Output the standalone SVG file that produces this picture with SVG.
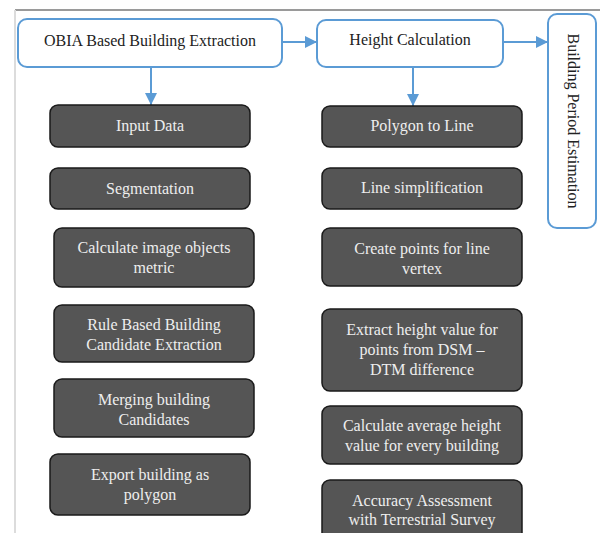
<svg xmlns="http://www.w3.org/2000/svg" width="600" height="533" viewBox="0 0 600 533">
<defs>
<marker id="ah" viewBox="0 0 10 10" refX="10" refY="5" markerWidth="12" markerHeight="12" markerUnits="userSpaceOnUse" orient="auto">
<path d="M0,0 L10,5 L0,10 z" fill="#5b9bd5"/>
</marker>
<style>
.hdr{fill:#fff;stroke:#5b9bd5;stroke-width:2}
.step{fill:#555;stroke:#1a1a1a;stroke-width:1.5}
.ht{font-family:"Liberation Serif",serif;font-size:16px;fill:#222;text-anchor:middle}
.st{font-family:"Liberation Serif",serif;font-size:16px;fill:#eee;text-anchor:middle}
.con{stroke:#5b9bd5;stroke-width:2;fill:none;marker-end:url(#ah)}
</style>
</defs>
<rect width="600" height="533" fill="#fff"/>
<line x1="15" y1="10" x2="600" y2="10" stroke="#9a9a9a" stroke-width="2"/>
<line x1="15" y1="10" x2="15" y2="533" stroke="#dcdcdc" stroke-width="2"/>

<g id="connectors">
<line class="con" x1="151" y1="67" x2="151" y2="105"/>
<line class="con" x1="282" y1="42" x2="317" y2="42"/>
<line class="con" x1="503" y1="42" x2="548" y2="42"/>
<line class="con" x1="413" y1="67" x2="413" y2="106"/>
</g>

<g id="obia"><rect class="hdr" x="18" y="19" width="264" height="48" rx="9"/><text class="ht" x="150" y="46">OBIA Based Building Extraction</text></g>
<g id="height"><rect class="hdr" x="317" y="20" width="186" height="47" rx="9"/><text class="ht" x="410" y="45">Height Calculation</text></g>
<g id="period"><rect class="hdr" x="548" y="14" width="48" height="214" rx="9"/><text class="ht" transform="translate(568,121) rotate(90)" x="0" y="0">Building Period Estimation</text></g>

<g id="input"><rect class="step" x="50" y="105" width="200" height="42" rx="8"/><text class="st" x="150" y="131">Input Data</text></g>
<g id="seg"><rect class="step" x="50" y="168" width="200" height="41" rx="8"/><text class="st" x="150" y="194">Segmentation</text></g>
<g id="calc"><rect class="step" x="54" y="228" width="200" height="59" rx="8"/><text class="st" x="154" y="253">Calculate image objects</text><text class="st" x="154" y="273">metric</text></g>
<g id="rule"><rect class="step" x="54" y="305" width="200" height="57" rx="8"/><text class="st" x="154" y="330">Rule Based Building</text><text class="st" x="154" y="350">Candidate Extraction</text></g>
<g id="merge"><rect class="step" x="54" y="379" width="200" height="58" rx="8"/><text class="st" x="154" y="405">Merging building</text><text class="st" x="154" y="425">Candidates</text></g>
<g id="export"><rect class="step" x="50" y="454" width="200" height="61" rx="8"/><text class="st" x="150" y="480">Export building as</text><text class="st" x="150" y="500">polygon</text></g>

<g id="p2l"><rect class="step" x="322" y="106" width="200" height="41" rx="8"/><text class="st" x="422" y="131">Polygon to Line</text></g>
<g id="simp"><rect class="step" x="322" y="168" width="200" height="41" rx="8"/><text class="st" x="422" y="193">Line simplification</text></g>
<g id="pts"><rect class="step" x="322" y="228" width="200" height="58" rx="8"/><text class="st" x="422" y="254">Create points for line</text><text class="st" x="422" y="274">vertex</text></g>
<g id="extract"><rect class="step" x="322" y="309" width="200" height="82" rx="8"/><text class="st" x="422" y="335">Extract height value for</text><text class="st" x="422" y="355">points from DSM –</text><text class="st" x="422" y="375">DTM difference</text></g>
<g id="avg"><rect class="step" x="322" y="406" width="200" height="58" rx="8"/><text class="st" x="422" y="431">Calculate average height</text><text class="st" x="422" y="451">value for every building</text></g>
<g id="acc"><rect class="step" x="322" y="480" width="200" height="70" rx="8"/><text class="st" x="422" y="506">Accuracy Assessment</text><text class="st" x="422" y="525">with Terrestrial Survey</text></g>
</svg>
